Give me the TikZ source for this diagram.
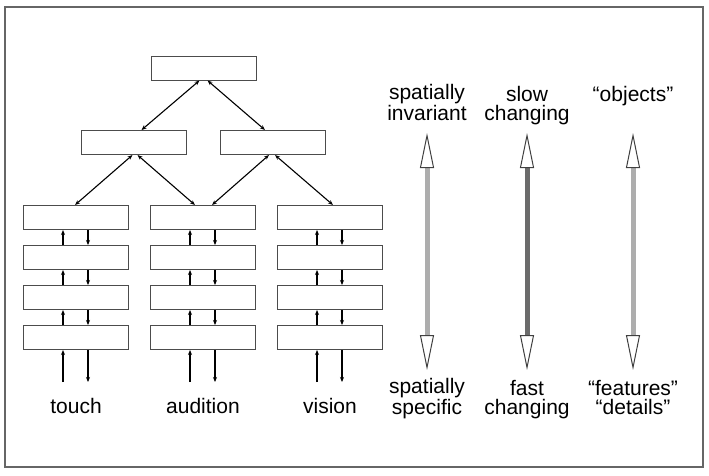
\documentclass[tikz,border=0pt]{standalone}
\usepackage{fontspec}
\setmainfont{Liberation Sans}
\usetikzlibrary{arrows.meta,positioning}

\begin{document}
\begin{tikzpicture}[x=1pt,y=-1pt,>={Stealth[length=5pt,width=4pt]},
  box/.style={rectangle,draw=black!70,line width=1pt,fill=white,
    minimum width=105pt,minimum height=24pt,inner sep=0pt},
  link/.style={<->,line width=1.1pt},
  feed/.style={->,line width=1.1pt},
  label text/.style={font=\fontsize{21}{18.5}\selectfont,align=center,
    anchor=base,inner sep=0pt},
  big arrow/.style={{Triangle[length=35pt,width=14pt,color=black!75,fill=white,line width=1pt]}-{Triangle[length=35pt,width=14pt,color=black!75,fill=white,line width=1pt]},
    line width=5pt}]

  \useasboundingbox (0,0) rectangle (709,475);
  \draw[black!60,line width=1.3pt] (5,7) rectangle (703,467);

  % hierarchy
  \node[box] (top) at (203.5,68) {};
  \node[box] (ml) at (133.5,142.5) {};
  \node[box] (mr) at (273,142.5) {};

  % one stack per sense
  \foreach \c/\x in {t/76,a/203,v/330} {
    \node[box] (\c1) at (\x,217.5) {};
    \node[box] (\c2) [below=15pt of \c1] {};
    \node[box] (\c3) [below=15pt of \c2] {};
    \node[box] (\c4) [below=15pt of \c3] {};
    \foreach \i/\j in {1/2,2/3,3/4} {
      \draw[feed] ([xshift=-13pt]\c\j.north) -- ([xshift=-13pt]\c\i.south);
      \draw[feed] ([xshift=12pt]\c\i.south) -- ([xshift=12pt]\c\j.north);
    }
    \coordinate (\c in) at ([xshift=-13pt,yshift=-32pt]\c4.south);
    \coordinate (\c out) at ([xshift=12pt,yshift=-32pt]\c4.south);
    \draw[feed] (\c in) -- (\c in |- \c4.south);
    \draw[feed] (\c out |- \c4.south) -- (\c out);
  }

  \draw[link] ([xshift=-4pt]top.south) -- ([xshift=8pt]ml.north);
  \draw[link] ([xshift=4pt]top.south) -- ([xshift=-8pt]mr.north);
  \draw[link] ([xshift=-1pt]ml.south) -- ([xshift=-1pt]t1.north);
  \draw[link] ([xshift=4pt]ml.south) -- ([xshift=-8pt]a1.north);
  \draw[link] ([xshift=-4pt]mr.south) -- ([xshift=9pt]a1.north);
  \draw[link] ([xshift=2pt]mr.south) -- ([xshift=3pt]v1.north);

  \node[label text] (touch) at (76,413) {touch};
  \node[label text] (audition) at (203,413) {audition};
  \node[label text] (vision) at (330,413) {vision};

  % scales on the right
  \node[label text] (inv) at (427,120) {spatially\\invariant};
  \node[label text] (slow) at (527,120) {slow\\changing};
  \node[label text] (obj) at (633,101.5) {“objects”};
  \node[label text] (spec) at (427,414) {spatially\\specific};
  \node[label text] (fast) at (527,414) {fast\\changing};
  \node[label text] (feat) at (633,414) {“features”\\“details”};

  \coordinate (inv end) at (427,133);
  \coordinate (spec end) at (427,370);
  \coordinate (slow end) at (527,133);
  \coordinate (fast end) at (527,370);
  \coordinate (obj end) at (633,133);
  \coordinate (feat end) at (633,370);
  \draw[big arrow,draw=black!32] (inv end) -- (spec end);
  \draw[big arrow,draw=black!58] (slow end) -- (fast end);
  \draw[big arrow,draw=black!32] (obj end) -- (feat end);
\end{tikzpicture}
\end{document}
